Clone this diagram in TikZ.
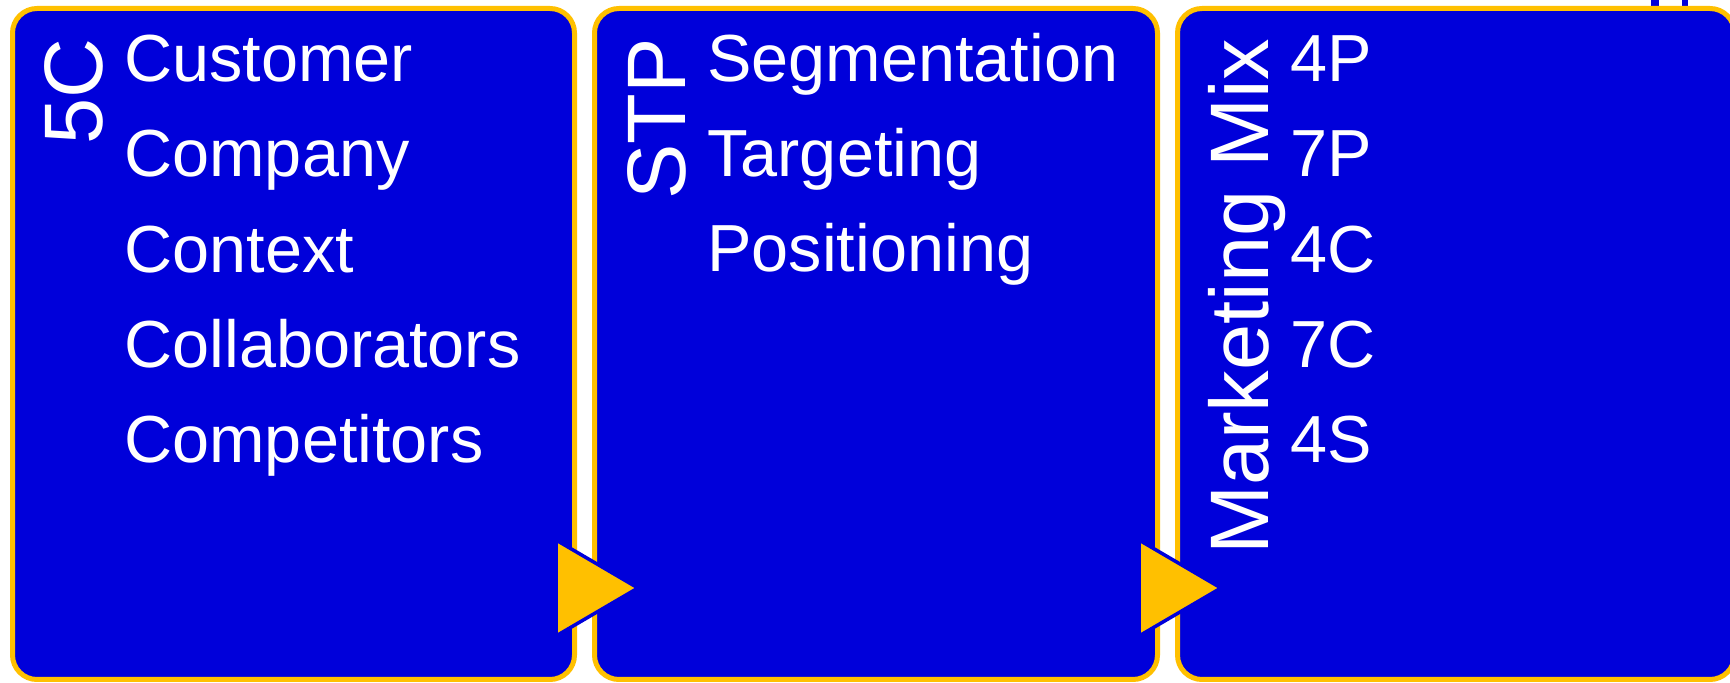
\documentclass[tikz,border=0pt]{standalone}
\usepackage{fontspec}
\setmainfont{Liberation Sans}
\definecolor{boxblue}{RGB}{0,0,218}
\definecolor{gold}{RGB}{255,192,0}
\begin{document}
\begin{tikzpicture}[x=0.5pt,y=-0.5pt,
  panel/.style={draw=gold, fill=boxblue, line width=2.5pt, rounded corners=12.25pt, inner sep=0pt},
  item/.style={anchor=base west, inner sep=0pt, text=white, font=\fontsize{33.3}{33.3}\selectfont},
  paneltitle/.style={anchor=base east, inner sep=0pt, rotate=90, text=white, font=\fontsize{41.5}{41.5}\selectfont},
  flowtri/.style={fill=gold, draw=boxblue, line width=1.75pt, line join=miter}]
\useasboundingbox (0,0) rectangle (1730,683);
\fill[white] (0,0) rectangle (1730,683);
% small fragments at top right
\fill[boxblue] (1651,0) rectangle (1659,6);
\fill[boxblue] (1682,0) rectangle (1688,6);
% panels
\node[panel, minimum width=281pt, minimum height=335.5pt] (p1) at (293.5,344) {};
\node[panel, minimum width=281.5pt, minimum height=335.5pt] (p2) at (876,344) {};
\node[panel, minimum width=278.5pt, minimum height=335.5pt] (p3) at (1456,344) {};
% titles
\node[paneltitle] (t1) at (102,38) {5C};
\node[paneltitle] (t2) at (685,38) {STP};
\node[paneltitle] (t3) at (1268,38) {Marketing Mix};
% panel 1 items
\node[item] (a1) at (124,82) {Customer};
\node[item] (a2) at (124,177) {Company};
\node[item] (a3) at (124,273) {Context};
\node[item] (a4) at (124,368) {Collaborators};
\node[item] (a5) at (124,463) {Competitors};
% panel 2 items
\node[item] (b1) at (707,82) {Segmentation};
\node[item] (b2) at (707,177) {Targeting};
\node[item] (b3) at (707,272) {Positioning};
% panel 3 items
\node[item] (c1) at (1290,82) {4P};
\node[item] (c2) at (1290,177) {7P};
\node[item] (c3) at (1290,273) {4C};
\node[item] (c4) at (1290,368) {7C};
\node[item] (c5) at (1290,463) {4S};
% flow triangles
\draw[flowtri] (556,540) -- (638,588) -- (556,636) -- cycle;
\draw[flowtri] (1139,540) -- (1221,588) -- (1139,636) -- cycle;
\end{tikzpicture}
\end{document}
